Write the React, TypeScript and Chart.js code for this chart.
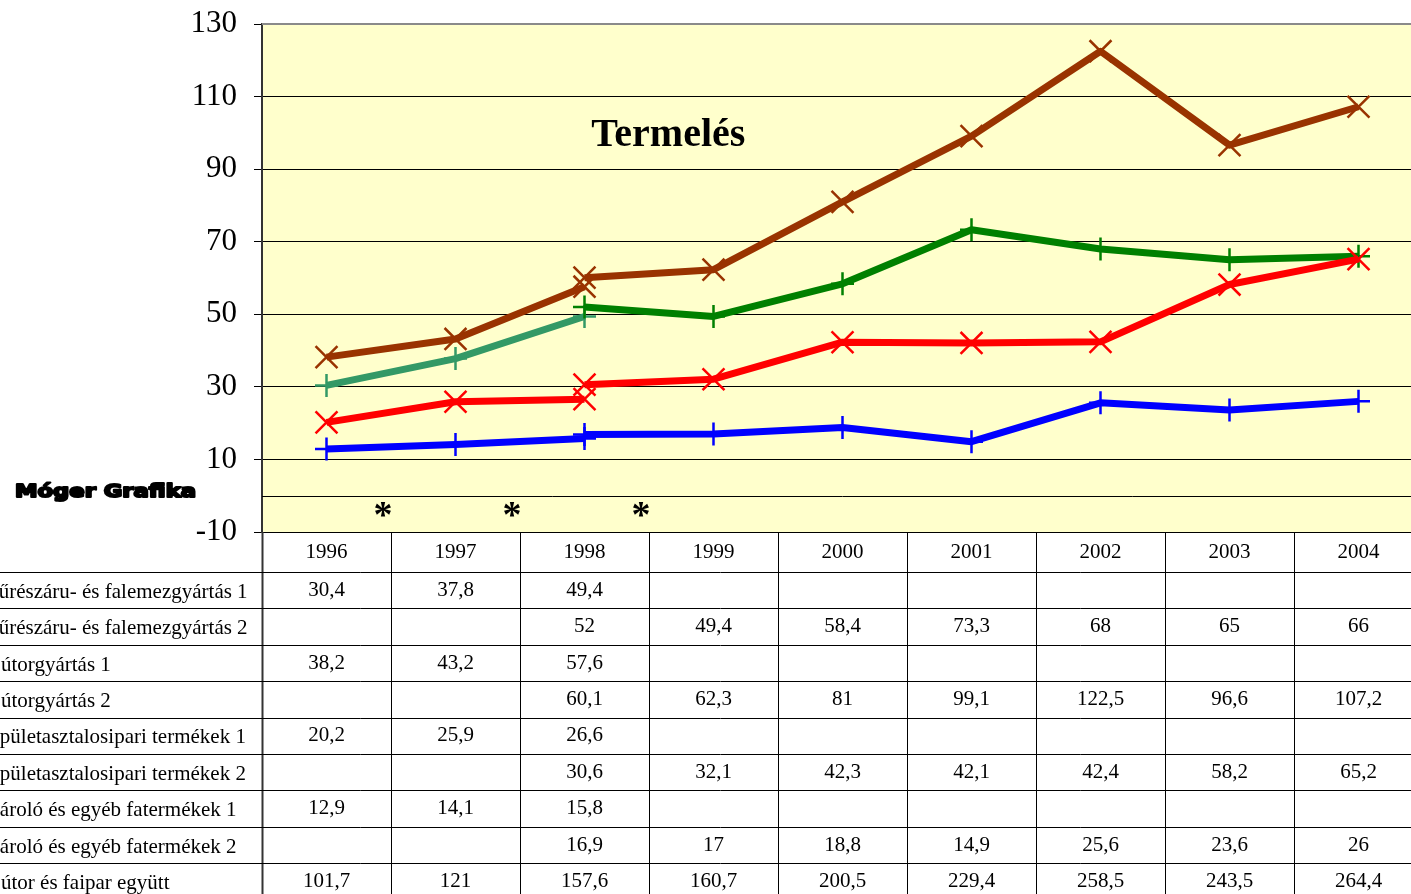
import React, { useEffect, useRef } from "react";
import { Chart, registerables } from "chart.js";

Chart.register(...registerables);

const years = ["1996", "1997", "1998", "1999", "2000", "2001", "2002", "2003", "2004"];
const yMin = -10;
const yMax = 130;
const yStep = 20;

const rowLabels = [
  "Fűrészáru- és falemezgyártás 1",
  "Fűrészáru- és falemezgyártás 2",
  "Bútorgyártás 1",
  "Bútorgyártás 2",
  "Épületasztalosipari termékek 1",
  "Épületasztalosipari termékek 2",
  "Tároló és egyéb fatermékek 1",
  "Tároló és egyéb fatermékek 2",
  "Bútor és faipar együtt",
];

const fureszaru1 = [30.4, 37.8, 49.4, null, null, null, null, null, null];
const fureszaru2 = [null, null, 52, 49.4, 58.4, 73.3, 68, 65, 66];
const butor1 = [38.2, 43.2, 57.6, null, null, null, null, null, null];
const butor2 = [null, null, 60.1, 62.3, 81, 99.1, 122.5, 96.6, 107.2];
const epulet1 = [20.2, 25.9, 26.6, null, null, null, null, null, null];
const epulet2 = [null, null, 30.6, 32.1, 42.3, 42.1, 42.4, 58.2, 65.2];
const tarolo1 = [12.9, 14.1, 15.8, null, null, null, null, null, null];
const tarolo2 = [null, null, 16.9, 17, 18.8, 14.9, 25.6, 23.6, 26];
const egyutt = [101.7, 121, 157.6, 160.7, 200.5, 229.4, 258.5, 243.5, 264.4];

const tableRows = [fureszaru1, fureszaru2, butor1, butor2, epulet1, epulet2, tarolo1, tarolo2, egyutt];

const plotted = [
  { data: fureszaru1, color: "#339966", style: "cross" },
  { data: fureszaru2, color: "#008000", style: "cross" },
  { data: butor1, color: "#993300", style: "crossRot" },
  { data: butor2, color: "#993300", style: "crossRot" },
  { data: epulet1, color: "#FF0000", style: "crossRot" },
  { data: epulet2, color: "#FF0000", style: "crossRot" },
  { data: tarolo1, color: "#0000FF", style: "cross" },
  { data: tarolo2, color: "#0000FF", style: "cross" },
];

const titleText = "Termelés";
const watermark = "Móger Grafika";
const asteriskGaps = [0, 1, 2];

const fmt = (v: number | null) => (v === null ? "" : String(v).replace(".", ","));

const SERIF = "'Liberation Serif', 'Times New Roman', serif";

const decorPlugin = {
  id: "decor",
  beforeDraw(chart: any) {
    const { ctx, chartArea } = chart;
    const { left, top, right, bottom } = chartArea;
    ctx.save();
    ctx.fillStyle = "#FFFFCC";
    ctx.fillRect(left, top, right - left, bottom - top);
    ctx.restore();
  },
  beforeDatasetsDraw(chart: any) {
    const { ctx, chartArea, scales } = chart;
    const { left, top, right } = chartArea;
    const y0 = Math.round(scales.y.getPixelForValue(0)) + 0.5;
    ctx.save();
    ctx.strokeStyle = "#000";
    ctx.lineWidth = 1;
    ctx.beginPath();
    ctx.moveTo(left, y0);
    ctx.lineTo(right, y0);
    ctx.stroke();
    ctx.strokeStyle = "#8a8a8a";
    ctx.lineWidth = 2;
    ctx.beginPath();
    ctx.moveTo(left, top);
    ctx.lineTo(right, top);
    ctx.stroke();
    ctx.restore();
  },
  afterDraw(chart: any) {
    const { ctx, chartArea, scales, width, height } = chart;
    const xs = scales.x;
    const ys = scales.y;
    const colW = xs.getPixelForValue(1) - xs.getPixelForValue(0);
    ctx.save();

    // title
    ctx.fillStyle = "#000";
    ctx.font = `bold 40px ${SERIF}`;
    ctx.textAlign = "center";
    ctx.textBaseline = "middle";
    ctx.fillText(titleText, xs.getPixelForValue(2.65), ys.getPixelForValue(99.3));

    // asterisks
    ctx.font = `bold 38px ${SERIF}`;
    ctx.textBaseline = "alphabetic";
    for (const g of asteriskGaps) {
      const x = (xs.getPixelForValue(g) + xs.getPixelForValue(g + 1)) / 2 - 8;
      ctx.fillText("*", x, ys.getPixelForValue(-3.9) + 17);
    }

    // watermark
    ctx.font = `bold 18px 'DejaVu Sans', sans-serif`;
    ctx.textAlign = "left";
    ctx.textBaseline = "middle";
    const mw = ctx.measureText(watermark).width;
    ctx.save();
    ctx.translate(15, 492);
    ctx.scale(181 / mw, 1);
    ctx.lineWidth = 2;
    ctx.strokeStyle = "#000";
    ctx.lineJoin = "round";
    ctx.strokeText(watermark, 0, 0);
    ctx.fillText(watermark, 0, 0);
    ctx.restore();

    // table
    const tTop = chartArea.bottom;
    const headH = 40;
    const rowH = 36.4;
    const bounds: number[] = [];
    for (let i = 0; i <= years.length; i++) bounds.push(xs.getPixelForValue(i) - colW / 2);

    for (let i = 0; i <= years.length; i++) {
      const x = Math.round(bounds[i]) + 0.5;
      ctx.strokeStyle = i === 0 ? "#333" : "#000";
      ctx.lineWidth = i === 0 ? 2 : 1;
      ctx.beginPath();
      ctx.moveTo(x, tTop);
      ctx.lineTo(x, height);
      ctx.stroke();
    }
    ctx.strokeStyle = "#000";
    ctx.lineWidth = 1;
    for (let r = 0; r < tableRows.length; r++) {
      const y = Math.round(tTop + headH + r * rowH) + 0.5;
      ctx.beginPath();
      ctx.moveTo(0, y);
      ctx.lineTo(width, y);
      ctx.stroke();
    }

    ctx.fillStyle = "#000";
    ctx.font = `21px ${SERIF}`;
    ctx.textAlign = "center";
    ctx.textBaseline = "middle";
    years.forEach((yr, i) => {
      ctx.fillText(yr, xs.getPixelForValue(i), tTop + headH / 2);
    });
    tableRows.forEach((row, r) => {
      const cy = tTop + headH + r * rowH + rowH / 2;
      ctx.textAlign = "left";
      ctx.fillText(rowLabels[r], -13, cy + 2);
      ctx.textAlign = "center";
      row.forEach((v, i) => {
        if (v !== null) ctx.fillText(fmt(v), xs.getPixelForValue(i), cy);
      });
    });
    ctx.restore();
  },
};

export default function App() {
  const ref = useRef<HTMLCanvasElement | null>(null);

  useEffect(() => {
    const canvas = ref.current;
    if (!canvas) return;
    const n = plotted.length;
    const chart = new Chart(canvas, {
      type: "line",
      data: {
        labels: years,
        datasets: plotted.map((s, i) => ({
          label: rowLabels[i],
          data: s.data,
          borderColor: s.color,
          backgroundColor: s.color,
          borderWidth: 7,
          borderJoinStyle: "round" as const,
          pointStyle: s.style as any,
          pointRadius: s.style === "crossRot" ? 15.5 : 11.5,
          pointBorderWidth: 2.5,
          pointBorderColor: s.color,
          pointBackgroundColor: s.color,
          spanGaps: false,
          tension: 0,
          fill: false,
          order: n - i,
          clip: 20,
        })),
      },
      options: {
        responsive: false,
        animation: false,
        events: [],
        layout: { padding: { left: 0, top: 24, right: 5, bottom: 362 } },
        plugins: {
          legend: { display: false },
          title: { display: false },
          tooltip: { enabled: false },
        },
        scales: {
          x: {
            type: "category",
            display: false,
            offset: true,
          },
          y: {
            min: yMin,
            max: yMax,
            afterFit: (s: any) => {
              s.width = 262;
              s.paddingTop = 0;
              s.paddingBottom = 0;
            },
            ticks: {
              stepSize: yStep,
              color: "#000",
              padding: 17,
              font: { family: "'Liberation Serif', 'Times New Roman', serif", size: 31 },
            },
            grid: {
              color: (c: any) => (c.tick && c.tick.value === yMax ? "#8a8a8a" : "#000"),
              lineWidth: 1,
              tickLength: 8,
              tickColor: "#000",
            },
            border: { display: true, color: "#333", width: 2 },
          },
        },
      },
      plugins: [decorPlugin],
    });
    return () => chart.destroy();
  }, []);

  return (
    <div style={{ position: "fixed", left: 0, top: 0, width: 1411, height: 894, overflow: "hidden", background: "#fff" }}>
      <canvas ref={ref} width={1441} height={894} style={{ display: "block", width: 1441, height: 894 }} />
    </div>
  );
}
